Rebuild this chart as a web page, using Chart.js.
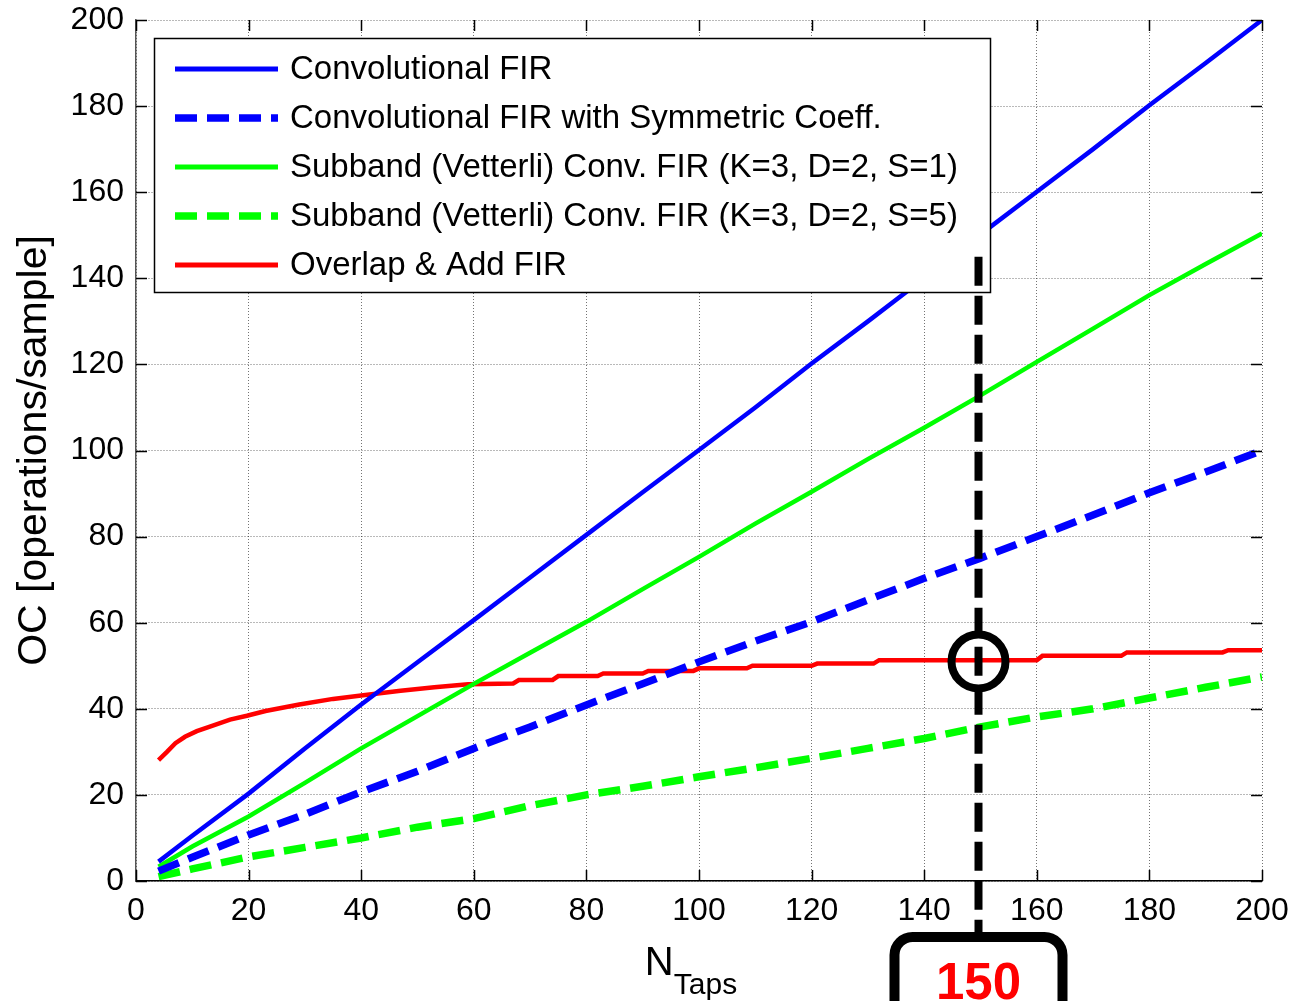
<!DOCTYPE html>
<html>
<head>
<meta charset="utf-8">
<title>OC vs N taps</title>
<script src="https://cdn.jsdelivr.net/npm/chart.js@4.4.1/dist/chart.umd.min.js"></script>
<style>
  html, body { margin: 0; padding: 0; background: #fff; }
  #wrap { width: 1295px; height: 1001px; }
</style>
</head>
<body>
<div id="wrap"><canvas id="ocChart" width="1295" height="1001"></canvas></div>
<script>
// values
const N_TAPS   = [4, 10, 20, 30, 40, 50, 60, 70, 80, 90, 100, 110, 120, 130, 140, 150, 160, 170, 180, 190, 200];
const CONV_FIR = [4.5, 10.5, 20.3, 30.8, 41, 50.8, 60.6, 70.5, 80.4, 90.3, 100.1, 110, 120.2, 130, 140, 150.2, 160.1, 170, 180.2, 190, 200];
const CONV_SYM = [2.3, 5.5, 10.7, 15.5, 20.7, 25.5, 30.8, 35.8, 40.9, 45.8, 50.9, 55.7, 60.2, 65.3, 70.3, 75, 80, 85, 90.2, 95, 100];
const SUB_S1   = [3.3, 8, 15, 22.8, 30.8, 38.3, 45.8, 53, 60.2, 67.8, 75.3, 83, 90.4, 98, 105.3, 112.8, 120.6, 128.3, 136.1, 143.3, 150.4];
const SUB_S5   = [1, 2.8, 5.6, 7.8, 10, 12.5, 14.5, 17.5, 20, 22, 24.2, 26.3, 28.5, 30.8, 33.1, 35.8, 38.1, 40, 42.5, 45, 47.4];

const OLA_N  = [4, 5.5, 7, 8.7, 10.8, 13, 16.7, 19.7, 23, 29, 35, 40, 47, 53, 59, 67, 68, 74, 75, 82, 83, 90, 91, 99, 100, 108.5, 109.5, 120, 121, 131, 132, 160, 161, 175, 176, 193, 194, 200];
const OLA_OC = [28.1, 30, 32, 33.5, 34.8, 35.8, 37.5, 38.4, 39.5, 41, 42.3, 43.1, 44.2, 45, 45.7, 45.9, 46.7, 46.7, 47.6, 47.6, 48.2, 48.2, 48.8, 48.8, 49.4, 49.4, 50, 50, 50.5, 50.5, 51.3, 51.3, 52.3, 52.3, 53.1, 53.1, 53.6, 53.6];

const X_TICKS = [0, 20, 40, 60, 80, 100, 120, 140, 160, 180, 200];
const Y_TICKS = [0, 20, 40, 60, 80, 100, 120, 140, 160, 180, 200];

const MARK_N    = 150;  // highlighted tap count
const MARK_OC   = 51;   // overlap & add value at that tap count
const MARK_FROM = 145;  // where the dashed marker starts

const FONT = "'Liberation Sans', Arial, sans-serif";

const pts = (xs, ys) => xs.map((v, i) => ({ x: v, y: ys[i] }));

const SERIES = [
  { label: "Convolutional FIR",                            color: "#0000ff", dash: [],       width: 4.5, data: pts(N_TAPS, CONV_FIR) },
  { label: "Convolutional FIR with Symmetric Coeff.",      color: "#0000ff", dash: [22, 10], width: 7.5, data: pts(N_TAPS, CONV_SYM) },
  { label: "Subband (Vetterli) Conv. FIR (K=3, D=2, S=1)", color: "#00ff00", dash: [],       width: 4.5, data: pts(N_TAPS, SUB_S1) },
  { label: "Subband (Vetterli) Conv. FIR (K=3, D=2, S=5)", color: "#00ff00", dash: [22, 10], width: 7.5, data: pts(N_TAPS, SUB_S5) },
  { label: "Overlap & Add FIR",                            color: "#ff0000", dash: [],       width: 4.5, data: pts(OLA_N, OLA_OC) },
];

function drawInnerTicks(ctx, ca, x, y) {
  ctx.save();
  ctx.strokeStyle = "#000";
  ctx.lineWidth = 1.5;
  ctx.beginPath();
  X_TICKS.forEach(t => {
    const px = Math.round(x.getPixelForValue(t)) + 0.5;
    ctx.moveTo(px, ca.bottom); ctx.lineTo(px, ca.bottom - 11);
    ctx.moveTo(px, ca.top);    ctx.lineTo(px, ca.top + 11);
  });
  Y_TICKS.forEach(t => {
    const py = Math.round(y.getPixelForValue(t)) + 0.5;
    ctx.moveTo(ca.left, py);  ctx.lineTo(ca.left + 11, py);
    ctx.moveTo(ca.right, py); ctx.lineTo(ca.right - 11, py);
  });
  ctx.stroke();
  ctx.restore();
}

function drawLegend(ctx, ca) {
  const left = ca.left + 18, top = ca.top + 18;
  const w = 836, h = 254, rowH = 49;
  ctx.save();
  ctx.fillStyle = "#fff";
  ctx.fillRect(left, top, w, h);
  ctx.strokeStyle = "#000";
  ctx.lineWidth = 1.5;
  ctx.strokeRect(left + 0.5, top + 0.5, w, h);
  ctx.font = `33px ${FONT}`;
  ctx.textBaseline = "middle";
  SERIES.forEach((s, i) => {
    const cy = top + 31 + i * rowH;
    ctx.beginPath();
    ctx.setLineDash(s.dash);
    ctx.strokeStyle = s.color;
    ctx.lineWidth = s.dash.length ? 7.5 : 5;
    ctx.moveTo(left + 21, cy);
    ctx.lineTo(left + 124, cy);
    ctx.stroke();
    ctx.setLineDash([]);
    ctx.fillStyle = "#000";
    ctx.fillText(s.label, left + 136, cy + 1);
  });
  ctx.restore();
}

function drawMarker(ctx, ca, x, y) {
  const px = x.getPixelForValue(MARK_N) - 2;
  const boxTop = ca.bottom + 56;
  ctx.save();
  ctx.strokeStyle = "#000";

  // dashed marker line
  ctx.lineWidth = 8;
  ctx.setLineDash([29, 10]);
  ctx.beginPath();
  ctx.moveTo(px, y.getPixelForValue(MARK_FROM));
  ctx.lineTo(px, boxTop);
  ctx.stroke();
  ctx.setLineDash([]);

  // circle on the overlap & add curve
  ctx.lineWidth = 8;
  ctx.beginPath();
  ctx.arc(px, y.getPixelForValue(MARK_OC), 27, 0, Math.PI * 2);
  ctx.stroke();

  // rounded label box under the axis
  ctx.lineWidth = 10;
  ctx.beginPath();
  ctx.roundRect(px - 84, boxTop, 168, 140, 18);
  ctx.stroke();

  ctx.fillStyle = "#ff0000";
  ctx.font = `bold 51px ${FONT}`;
  ctx.textAlign = "center";
  ctx.textBaseline = "alphabetic";
  ctx.fillText(String(MARK_N), px, ca.bottom + 118);
  ctx.restore();
}

function drawXTitle(ctx, ca) {
  ctx.save();
  ctx.fillStyle = "#000";
  ctx.font = `40px ${FONT}`;
  const wN = ctx.measureText("N").width;
  ctx.font = `30px ${FONT}`;
  const wT = ctx.measureText("Taps").width;
  const start = (ca.left + ca.right) / 2 - (wN + wT) / 2 - 8;
  ctx.font = `40px ${FONT}`;
  ctx.fillText("N", start, ca.bottom + 94);
  ctx.font = `30px ${FONT}`;
  ctx.fillText("Taps", start + wN, ca.bottom + 113);
  ctx.restore();
}

const overlayPlugin = {
  id: "overlay",
  afterDatasetsDraw(chart) {
    const { ctx, chartArea: ca, scales: { x, y } } = chart;
    drawInnerTicks(ctx, ca, x, y);
    drawLegend(ctx, ca);
    drawMarker(ctx, ca, x, y);
    drawXTitle(ctx, ca);
  },
};

const GRID = {
  color: "rgba(0,0,0,0.55)",
  lineWidth: 1,
  drawTicks: false,
};

new Chart(document.getElementById("ocChart").getContext("2d"), {
  type: "line",
  data: {
    datasets: SERIES.map(s => ({
      label: s.label,
      data: s.data,
      borderColor: s.color,
      backgroundColor: s.color,
      borderWidth: s.width,
      borderDash: s.dash,
      pointRadius: 0,
      tension: 0,
      fill: false,
    })),
  },
  options: {
    responsive: false,
    animation: false,
    layout: { padding: { left: 0, right: 33, top: 20, bottom: 0 } },
    plugins: {
      legend: { display: false },
      tooltip: { enabled: false },
    },
    scales: {
      x: {
        type: "linear",
        min: 0, max: 200,
        afterFit: s => { s.height = 120; s.paddingLeft = 0; s.paddingRight = 0; },
        afterBuildTicks: s => { s.ticks = X_TICKS.map(v => ({ value: v })); },
        grid: GRID,
        border: { display: true, color: "#000", width: 1.5, dash: [1, 2] },
        ticks: { color: "#000", font: { family: FONT, size: 32 }, padding: 11, maxRotation: 0, autoSkip: false },
      },
      y: {
        type: "linear",
        min: 0, max: 200,
        afterFit: s => { s.width = 136; s.paddingTop = 0; s.paddingBottom = 0; },
        afterBuildTicks: s => { s.ticks = Y_TICKS.map(v => ({ value: v })); },
        grid: GRID,
        border: { display: true, color: "#555", width: 1.5, dash: [1, 2] },
        ticks: { color: "#000", font: { family: FONT, size: 32 }, padding: 12, autoSkip: false },
        title: {
          display: true,
          text: "OC [operations/sample]",
          color: "#000",
          font: { family: FONT, size: 41 },
          padding: { top: 10, bottom: 0 },
        },
      },
    },
  },
  plugins: [overlayPlugin],
});
</script>
</body>
</html>
